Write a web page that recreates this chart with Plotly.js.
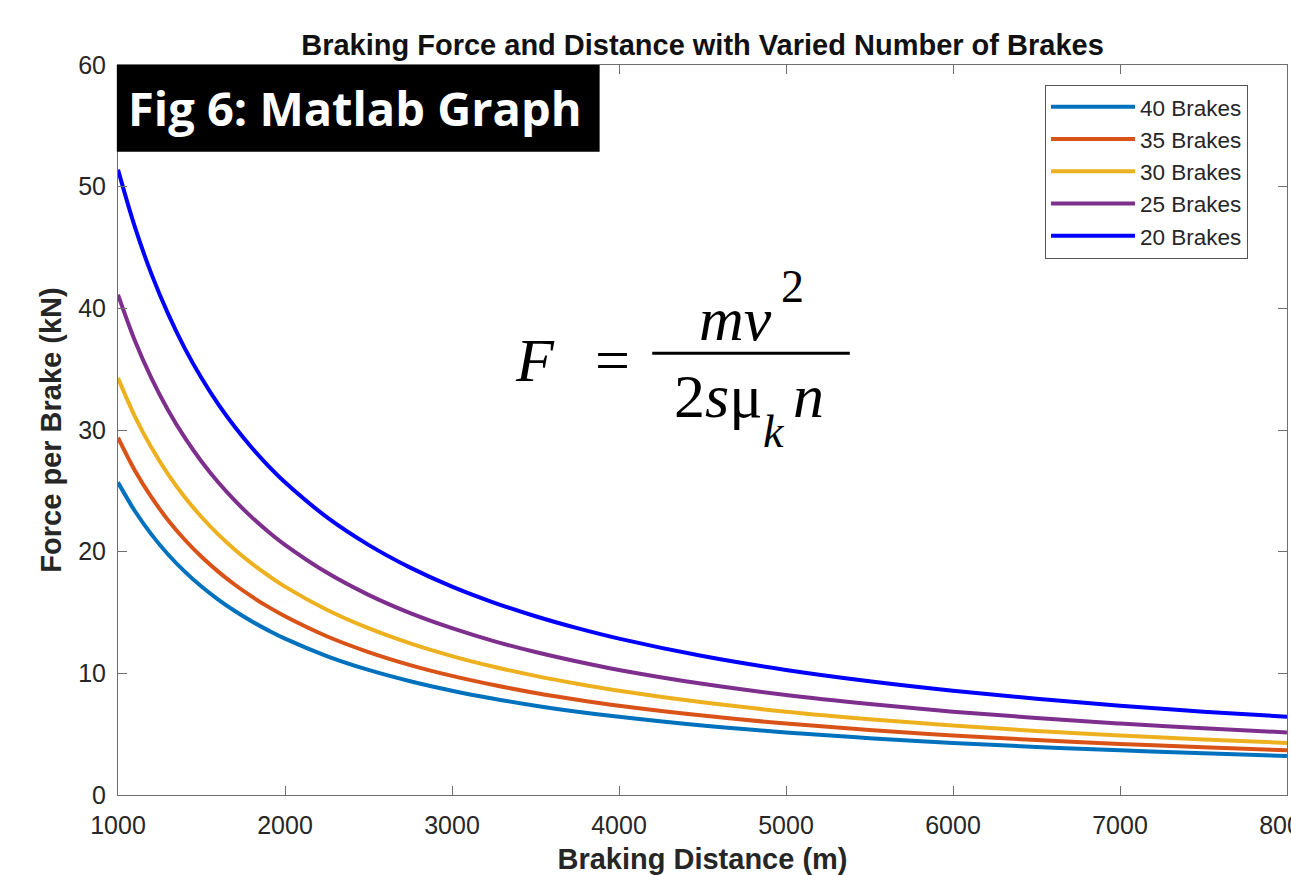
<!DOCTYPE html>
<html>
<head>
<meta charset="utf-8">
<script src="https://cdn.plot.ly/plotly-3.0.1.min.js"></script>
<style>
html,body{margin:0;padding:0;background:#fff;}
#chart{width:1291px;height:875px;}
</style>
</head>
<body>
<div id="chart"></div>
<script>
// Braking distance (m)
const distance = [1000,1100,1200,1300,1400,1500,1600,1700,1800,1900,2000,2250,2500,2750,3000,3250,3500,3750,4000,4500,5000,5500,6000,6500,7000,7500,8000];
// Force per brake (kN)
const brakes40 = [25.7,23.36,21.42,19.77,18.36,17.13,16.06,15.12,14.28,13.53,12.85,11.42,10.28,9.35,8.57,7.91,7.34,6.85,6.43,5.71,5.14,4.67,4.28,3.95,3.67,3.43,3.21];
const brakes35 = [29.37,26.7,24.48,22.59,20.98,19.58,18.36,17.28,16.32,15.46,14.69,13.05,11.75,10.68,9.79,9.04,8.39,7.83,7.34,6.53,5.87,5.34,4.9,4.52,4.2,3.92,3.67];
const brakes30 = [34.27,31.15,28.56,26.36,24.48,22.85,21.42,20.16,19.04,18.04,17.13,15.23,13.71,12.46,11.42,10.54,9.79,9.14,8.57,7.62,6.85,6.23,5.71,5.27,4.9,4.57,4.28];
const brakes25 = [41.12,37.38,34.27,31.63,29.37,27.41,25.7,24.19,22.84,21.64,20.56,18.28,16.45,14.95,13.71,12.65,11.75,10.97,10.28,9.14,8.22,7.48,6.85,6.33,5.87,5.48,5.14];
const brakes20 = [51.4,46.73,42.83,39.54,36.71,34.27,32.13,30.24,28.56,27.05,25.7,22.84,20.56,18.69,17.13,15.82,14.69,13.71,12.85,11.42,10.28,9.35,8.57,7.91,7.34,6.85,6.43];
const seriesNames = ["40 Brakes","35 Brakes","30 Brakes","25 Brakes","20 Brakes"];
const seriesColors = ["#0072BD","#D95319","#EDB120","#7E2F8E","#0000FF"];
const seriesValues = [brakes40, brakes35, brakes30, brakes25, brakes20];
const xTicks = [1000,2000,3000,4000,5000,6000,7000,8000];
const yTicks = [0,10,20,30,40,50,60];

const font = "Liberation Sans, Arial, Helvetica, sans-serif";
const traces = seriesValues.map((vals, i) => ({
  type: "scatter", mode: "lines", x: distance, y: vals, name: seriesNames[i],
  line: {color: seriesColors[i], width: 4, shape: "spline", smoothing: 1}
}));

const eqFont = {family: "Liberation Serif, DejaVu Serif, serif", size: 62, color: "#000"};
const axisCommon = {
  showgrid: false, zeroline: false, showline: true, linecolor: "#6e6e6e", linewidth: 1,
  mirror: "ticks", ticks: "inside", ticklen: 9, tickcolor: "#6e6e6e", tickwidth: 1,
  ticklabeloverflow: "allow",
  tickfont: {family: font, size: 25, color: "#262626"}
};

const layout = {
  width: 1291, height: 875,
  margin: {l: 118, r: 4, t: 65, b: 80},
  paper_bgcolor: "#fff", plot_bgcolor: "#fff",
  title: {text: "<b>Braking Force and Distance with Varied Number of Brakes</b>",
          font: {family: font, size: 29, color: "#111"}, x: 0.5, xref: "paper", xanchor: "center",
          y: 1, yref: "paper", yanchor: "bottom", pad: {b: 10}},
  xaxis: Object.assign({}, axisCommon, {
    range: [1000, 8000], tickvals: xTicks, ticktext: xTicks.map(String), ticklabelstandoff: 8,
    title: {text: "<b>Braking Distance (m)</b>", font: {family: font, size: 29, color: "#262626"}, standoff: 10}
  }),
  yaxis: Object.assign({}, axisCommon, {
    range: [0, 60], tickvals: yTicks, ticktext: yTicks.map(String), ticklabelstandoff: 6,
    title: {text: "<b>Force per Brake (kN)</b>", font: {family: font, size: 29, color: "#262626"}, standoff: 8}
  }),
  showlegend: true,
  legend: {
    x: 0.793, y: 0.973, xanchor: "left", yanchor: "top", xref: "paper", yref: "paper",
    bgcolor: "#fff", bordercolor: "#555", borderwidth: 1,
    font: {family: font, size: 22.5, color: "#262626"}, tracegroupgap: 0, itemwidth: 84
  },
  shapes: [
    {type: "rect", xref: "paper", yref: "paper", x0: -0.001, x1: 0.412, y0: 0.881, y1: 1.0,
     fillcolor: "#000", line: {width: 0}, layer: "above"},
    {type: "line", xref: "paper", yref: "paper", x0: 0.457, x1: 0.626, y0: 0.605, y1: 0.605,
     line: {color: "#000", width: 3}, layer: "above"}
  ],
  annotations: [
    {text: "<b>Fig 6: Matlab Graph</b>", xref: "paper", yref: "paper", x: 0.203, y: 0.941,
     xanchor: "center", yanchor: "middle", showarrow: false,
     font: {family: "Open Sans, Noto Sans, sans-serif", size: 47, color: "#fff"}},
    {text: "<i>F</i>", xref: "paper", yref: "paper", x: 0.357, y: 0.596, xanchor: "center", yanchor: "middle", showarrow: false, font: eqFont},
    {text: "=", xref: "paper", yref: "paper", x: 0.423, y: 0.596, xanchor: "center", yanchor: "middle", showarrow: false, font: eqFont},
    {text: "<i>mv</i>", xref: "paper", yref: "paper", x: 0.528, y: 0.652, xanchor: "center", yanchor: "middle", showarrow: false, font: eqFont},
    {text: "2", xref: "paper", yref: "paper", x: 0.577, y: 0.697, xanchor: "center", yanchor: "middle", showarrow: false,
     font: {family: eqFont.family, size: 46, color: "#000"}},
    {text: "2<i>s</i>μ", xref: "paper", yref: "paper", x: 0.513, y: 0.547, xanchor: "center", yanchor: "middle", showarrow: false, font: eqFont},
    {text: "<i>k</i>", xref: "paper", yref: "paper", x: 0.561, y: 0.498, xanchor: "center", yanchor: "middle", showarrow: false,
     font: {family: eqFont.family, size: 46, color: "#000"}},
    {text: "<i>n</i>", xref: "paper", yref: "paper", x: 0.591, y: 0.547, xanchor: "center", yanchor: "middle", showarrow: false, font: eqFont}
  ]
};

Plotly.newPlot("chart", traces, layout, {displayModeBar: false, staticPlot: true});
</script>
</body>
</html>
